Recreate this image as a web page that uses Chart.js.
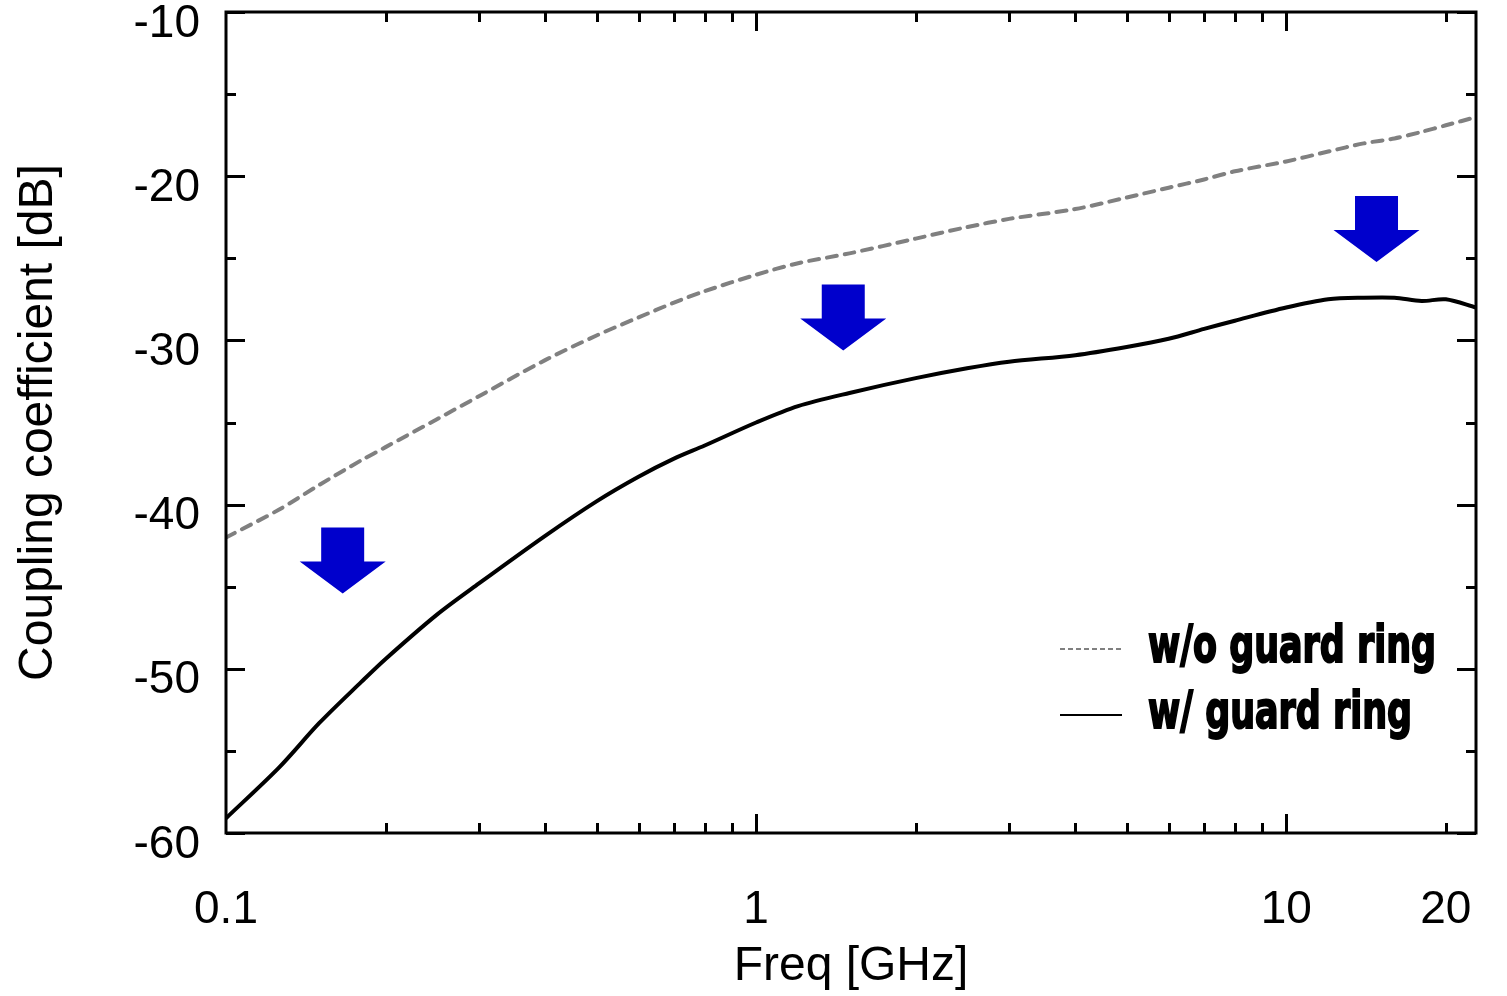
<!DOCTYPE html>
<html>
<head>
<meta charset="utf-8">
<title>Coupling coefficient vs frequency</title>
<script src="https://cdn.jsdelivr.net/npm/chart.js@4.4.0/dist/chart.umd.min.js"></script>
<style>
  html, body { margin: 0; padding: 0; background: #fff; }
  #wrap { width: 1507px; height: 996px; }
</style>
</head>
<body>
<div id="wrap"><canvas id="myChart" width="1507" height="996"></canvas></div>
<script>
const freq = [0.1, 0.126, 0.15, 0.18, 0.2, 0.25, 0.3, 0.4, 0.5, 0.6, 0.7, 0.8, 1.0, 1.2, 1.5,
              2, 2.5, 3, 4, 5, 6, 7, 8, 10, 12, 14, 16, 18, 20, 22.8];
const withoutRing = [-42.0, -40.3, -38.8, -37.3, -36.5, -34.8, -33.4, -31.2, -29.7, -28.6, -27.7, -27.0, -26.0, -25.3, -24.7,
                     -23.8, -23.1, -22.6, -22.0, -21.3, -20.7, -20.2, -19.7, -19.1, -18.5, -18.0, -17.7, -17.3, -16.9, -16.4];
const withRing = [-59.1, -56.0, -53.3, -50.8, -49.4, -46.7, -44.8, -41.9, -39.8, -38.3, -37.2, -36.4, -35.0, -34.0, -33.2,
                  -32.3, -31.7, -31.3, -30.9, -30.4, -29.9, -29.3, -28.8, -28.0, -27.5, -27.4, -27.4, -27.6, -27.5, -28.0];

const seriesNames = ['w/o guard ring', 'w/ guard ring'];

// axis ticks
const xTickValues = [0.1, 1, 10, 20];
const xMinorTicks = [0.2, 0.3, 0.4, 0.5, 0.6, 0.7, 0.8, 0.9, 2, 3, 4, 5, 6, 7, 8, 9, 20];
const xMajorTicks = [1, 10];
const yMajorTicks = [-60, -50, -40, -30, -20, -10];
const yMinorTicks = [-55, -45, -35, -25, -15];

// down arrows (freq, top of arrow in dB)
const arrowFreq = [0.166, 1.46, 14.8];
const arrowTop = [-41.4, -26.6, -21.2];

const axisFont = '"Liberation Sans", Arial, sans-serif';

function toPoints(xs, ys) {
  return xs.map(function(v, i) { return { x: v, y: ys[i] }; });
}

// frame, inward ticks, arrows and legend
const decorPlugin = {
  id: 'decor',
  afterDatasetsDraw(chart) {
    const ctx = chart.ctx;
    const a = chart.chartArea;
    const x = chart.scales.x;
    const y = chart.scales.y;
    ctx.save();

    // arrows
    ctx.fillStyle = '#0000cc';
    arrowFreq.forEach(function(f, i) {
      const cx = x.getPixelForValue(f);
      const top = y.getPixelForValue(arrowTop[i]);
      ctx.beginPath();
      ctx.moveTo(cx - 21.5, top);
      ctx.lineTo(cx + 21.5, top);
      ctx.lineTo(cx + 21.5, top + 34);
      ctx.lineTo(cx + 43, top + 34);
      ctx.lineTo(cx, top + 66);
      ctx.lineTo(cx - 43, top + 34);
      ctx.lineTo(cx - 21.5, top + 34);
      ctx.closePath();
      ctx.fill();
    });

    // ticks
    ctx.strokeStyle = '#000';
    ctx.lineWidth = 3;
    ctx.beginPath();
    function xt(v, len) {
      const px = Math.round(x.getPixelForValue(v)) + 0.5;
      ctx.moveTo(px, a.bottom); ctx.lineTo(px, a.bottom - len);
      ctx.moveTo(px, a.top); ctx.lineTo(px, a.top + len);
    }
    function yt(v, len) {
      const py = Math.round(y.getPixelForValue(v)) + 0.5;
      ctx.moveTo(a.left, py); ctx.lineTo(a.left + len, py);
      ctx.moveTo(a.right, py); ctx.lineTo(a.right - len, py);
    }
    xMinorTicks.forEach(function(v) { xt(v, 10); });
    xMajorTicks.forEach(function(v) { xt(v, 19); });
    yMinorTicks.forEach(function(v) { yt(v, 10); });
    yMajorTicks.forEach(function(v) { yt(v, 19); });
    ctx.stroke();

    // frame
    ctx.lineWidth = 3;
    ctx.strokeRect(a.left, a.top, a.right - a.left, a.bottom - a.top);

    // legend
    const lx = a.right - 416;
    const rows = [a.top + 637, a.top + 703];
    ctx.lineWidth = 2;
    ctx.strokeStyle = '#808080';
    ctx.setLineDash([5, 3]);
    ctx.beginPath(); ctx.moveTo(lx, rows[0]); ctx.lineTo(lx + 62, rows[0]); ctx.stroke();
    ctx.setLineDash([]);
    ctx.strokeStyle = '#000';
    ctx.beginPath(); ctx.moveTo(lx, rows[1]); ctx.lineTo(lx + 62, rows[1]); ctx.stroke();

    ctx.font = 'bold 52px "Liberation Sans Narrow", "DejaVu Sans Condensed", sans-serif';
    ctx.fillStyle = '#000';
    ctx.strokeStyle = '#000';
    ctx.lineWidth = 2;
    ctx.textBaseline = 'alphabetic';
    ctx.textAlign = 'left';
    const sx = 288 / ctx.measureText(seriesNames[0]).width;
    seriesNames.forEach(function(name, i) {
      ctx.save();
      ctx.translate(lx + 88, rows[i] + 13);
      ctx.scale(sx, 1);
      ctx.fillText(name, 0, 0);
      ctx.strokeText(name, 0, 0);
      ctx.restore();
    });

    ctx.restore();
  }
};

function noEdgePadding(scale) {
  scale.paddingTop = 0;
  scale.paddingBottom = 0;
  scale.paddingLeft = 0;
  scale.paddingRight = 0;
}

const ctx = document.getElementById('myChart').getContext('2d');
const myChart = new Chart(ctx, {
  type: 'line',
  data: {
    datasets: [{
      label: seriesNames[0],
      data: toPoints(freq, withoutRing),
      borderColor: '#808080',
      borderWidth: 4,
      borderDash: [10, 8],
      borderCapStyle: 'round',
      pointRadius: 0,
      fill: false,
      tension: 0.3
    }, {
      label: seriesNames[1],
      data: toPoints(freq, withRing),
      borderColor: '#000000',
      borderWidth: 4,
      pointRadius: 0,
      fill: false,
      tension: 0.3
    }]
  },
  options: {
    responsive: false,
    animation: false,
    layout: { padding: { left: 0, right: 31, top: 12, bottom: 0 } },
    plugins: {
      legend: { display: false },
      tooltip: { enabled: false }
    },
    scales: {
      x: {
        type: 'logarithmic',
        min: 0.1,
        max: 22.8,
        grid: { display: false, drawTicks: false },
        border: { display: false },
        afterBuildTicks: function(scale) {
          scale.ticks = xTickValues.map(function(v) { return { value: v }; });
        },
        afterFit: function(scale) { scale.height = 163; noEdgePadding(scale); },
        ticks: {
          autoSkip: false,
          maxRotation: 0,
          padding: 50,
          color: '#000',
          font: { family: axisFont, size: 46 },
          callback: function(v) { return String(v); }
        },
        title: {
          display: true,
          text: 'Freq [GHz]',
          color: '#000',
          font: { family: axisFont, size: 48 },
          padding: { top: 0, bottom: 0 }
        }
      },
      y: {
        min: -60,
        max: -10,
        grid: { display: false, drawTicks: false },
        border: { display: false },
        afterBuildTicks: function(scale) {
          scale.ticks = yMajorTicks.map(function(v) { return { value: v }; });
        },
        afterFit: function(scale) { scale.width = 226; noEdgePadding(scale); },
        ticks: {
          padding: 26,
          labelOffset: 12,
          color: '#000',
          font: { family: axisFont, size: 46 }
        },
        title: {
          display: true,
          text: 'Coupling coefficient [dB]',
          color: '#000',
          font: { family: axisFont, size: 48 },
          padding: { top: 10, bottom: 0 }
        }
      }
    }
  },
  plugins: [decorPlugin]
});
</script>
</body>
</html>
